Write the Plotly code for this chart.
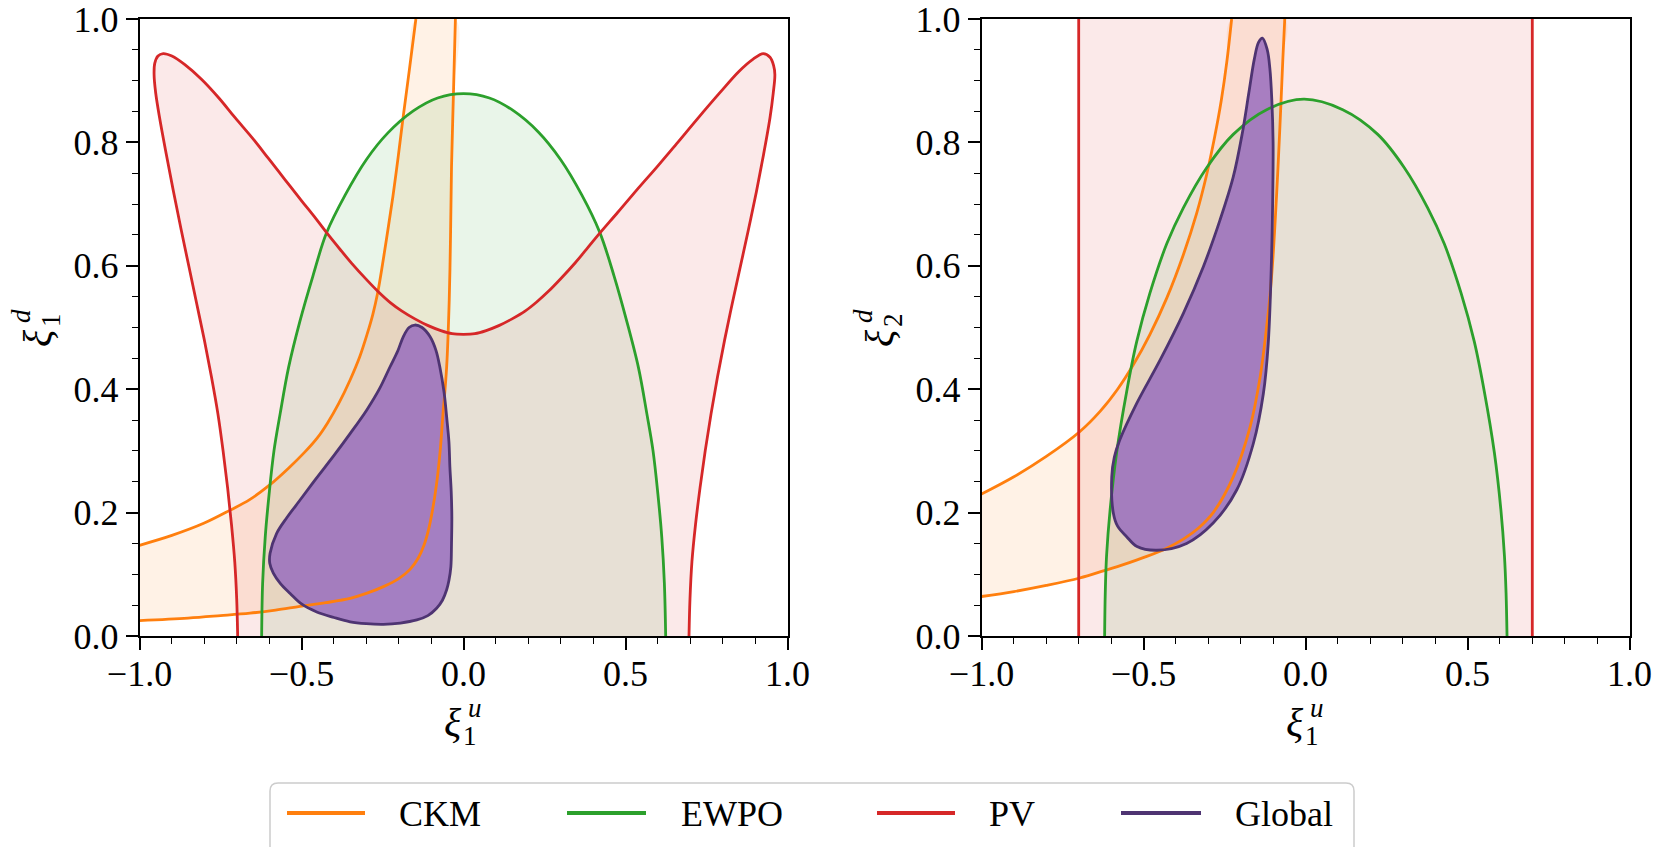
import plotly.graph_objects as go

# ---------------- data ----------------
# Left panel (xi_1^u vs xi_1^d)
CKM_L_UP_X = [-1.00, -0.90, -0.80, -0.72, -0.66, -0.60, -0.54, -0.49, -0.45, -0.42, -0.385, -0.35, -0.32, -0.297, -0.280, -0.265, -0.250, -0.234, -0.218, -0.202, -0.187, -0.167, -0.147]
CKM_L_UP_Y = [0.147, 0.163, 0.183, 0.204, 0.221, 0.244, 0.272, 0.298, 0.322, 0.345, 0.377, 0.415, 0.453, 0.490, 0.521, 0.556, 0.602, 0.656, 0.712, 0.775, 0.838, 0.918, 1.000]
CKM_L_LO_X = [-0.025, -0.031, -0.037, -0.040, -0.044, -0.052, -0.064, -0.072, -0.083, -0.097, -0.108, -0.122, -0.140, -0.165, -0.200, -0.247, -0.300, -0.350, -0.425, -0.505, -0.580, -0.659, -0.750, -0.850, -1.000]
CKM_L_LO_Y = [1.000, 0.880, 0.760, 0.650, 0.545, 0.436, 0.355, 0.300, 0.247, 0.200, 0.172, 0.147, 0.126, 0.108, 0.093, 0.080, 0.069, 0.061, 0.054, 0.048, 0.042, 0.037, 0.033, 0.029, 0.025]

EWPO_L_X = [-0.623, -0.620, -0.612, -0.600, -0.585, -0.566, -0.540, -0.505, -0.465, -0.423, -0.365, -0.300, -0.234, -0.155, -0.080, 0.000, 0.080, 0.155, 0.231, 0.300, 0.365, 0.420, 0.465, 0.504, 0.540, 0.566, 0.585, 0.600, 0.612, 0.620, 0.624]
EWPO_L_Y = [0.000, 0.085, 0.160, 0.230, 0.300, 0.360, 0.435, 0.510, 0.583, 0.653, 0.715, 0.772, 0.815, 0.851, 0.872, 0.879, 0.872, 0.851, 0.817, 0.772, 0.715, 0.655, 0.583, 0.510, 0.435, 0.360, 0.300, 0.230, 0.160, 0.085, 0.000]

PV_L_X = [-0.697, -0.700, -0.706, -0.716, -0.728, -0.742, -0.758, -0.778, -0.800, -0.824, -0.848, -0.872, -0.895, -0.917, -0.938, -0.950, -0.955, -0.953, -0.943, -0.927,
          -0.900, -0.860, -0.808, -0.755, -0.705, -0.650, -0.602, -0.550, -0.499, -0.455, -0.417, -0.380, -0.345, -0.300, -0.263, -0.225, -0.191, -0.150, -0.109, -0.070, -0.035, 0.000,
          0.035, 0.070, 0.109, 0.150, 0.191, 0.225, 0.263, 0.300, 0.345, 0.380, 0.416, 0.475, 0.535, 0.600, 0.658, 0.720, 0.792, 0.850, 0.894, 0.925, 0.946, 0.957,
          0.961, 0.956, 0.946, 0.926, 0.904, 0.880, 0.855, 0.830, 0.806, 0.784, 0.764, 0.746, 0.730, 0.716, 0.705, 0.699, 0.696]
PV_L_Y = [0.000, 0.060, 0.120, 0.180, 0.240, 0.300, 0.360, 0.420, 0.480, 0.540, 0.600, 0.660, 0.720, 0.780, 0.840, 0.880, 0.910, 0.928, 0.940, 0.944,
          0.940, 0.926, 0.902, 0.872, 0.840, 0.806, 0.774, 0.739, 0.705, 0.676, 0.650, 0.626, 0.604, 0.578, 0.558, 0.540, 0.527, 0.514, 0.503, 0.495, 0.490, 0.489,
          0.490, 0.495, 0.503, 0.514, 0.527, 0.541, 0.559, 0.579, 0.605, 0.627, 0.650, 0.686, 0.723, 0.762, 0.798, 0.837, 0.881, 0.915, 0.935, 0.944, 0.938, 0.925,
          0.910, 0.880, 0.840, 0.780, 0.720, 0.660, 0.600, 0.540, 0.480, 0.420, 0.360, 0.300, 0.240, 0.180, 0.120, 0.060, 0.000]

GLOBAL_L_X = [-0.150, -0.128, -0.103, -0.085, -0.073, -0.060, -0.052, -0.045, -0.042, -0.038, -0.036, -0.037, -0.039, -0.045, -0.052, -0.065, -0.083, -0.110, -0.144, -0.195, -0.247, -0.300, -0.350, -0.400, -0.453, -0.500, -0.535, -0.565, -0.587, -0.598, -0.597, -0.577, -0.545, -0.505, -0.455, -0.402, -0.350, -0.299, -0.260, -0.227, -0.203, -0.186, -0.168, -0.150]
GLOBAL_L_Y = [0.504, 0.500, 0.485, 0.463, 0.436, 0.395, 0.355, 0.315, 0.274, 0.235, 0.193, 0.150, 0.112, 0.090, 0.075, 0.058, 0.045, 0.033, 0.026, 0.021, 0.019, 0.020, 0.023, 0.030, 0.039, 0.052, 0.069, 0.085, 0.102, 0.118, 0.134, 0.166, 0.192, 0.220, 0.255, 0.291, 0.328, 0.366, 0.400, 0.436, 0.462, 0.485, 0.500, 0.504]

# Right panel (xi_1^u vs xi_2^d)
CKM_R_UP_X = [-1.000, -0.900, -0.800, -0.697, -0.634, -0.580, -0.531, -0.480, -0.428, -0.377, -0.336, -0.305, -0.280, -0.260, -0.243, -0.228]
CKM_R_UP_Y = [0.230, 0.258, 0.291, 0.331, 0.364, 0.400, 0.440, 0.489, 0.548, 0.618, 0.685, 0.748, 0.810, 0.868, 0.930, 1.000]
CKM_R_LO_X = [-0.064, -0.070, -0.079, -0.089, -0.101, -0.110, -0.120, -0.140, -0.171, -0.223, -0.285, -0.330, -0.377, -0.430, -0.490, -0.560, -0.621, -0.697, -0.800, -0.900, -1.000]
CKM_R_LO_Y = [1.000, 0.934, 0.825, 0.717, 0.609, 0.550, 0.501, 0.420, 0.339, 0.258, 0.200, 0.175, 0.157, 0.142, 0.129, 0.116, 0.106, 0.094, 0.082, 0.072, 0.064]

EWPO_R_X = [-0.620, -0.618, -0.614, -0.603, -0.583, -0.552, -0.521, -0.480, -0.428, -0.377, -0.305, -0.223, -0.120, -0.005, 0.115, 0.223, 0.305, 0.377, 0.428, 0.480, 0.521, 0.552, 0.583, 0.603, 0.614, 0.619, 0.622]
EWPO_R_Y = [0.000, 0.070, 0.130, 0.205, 0.297, 0.396, 0.477, 0.556, 0.636, 0.694, 0.759, 0.813, 0.853, 0.870, 0.853, 0.813, 0.759, 0.694, 0.636, 0.556, 0.477, 0.396, 0.297, 0.205, 0.130, 0.070, 0.000]

PV_R_BOUNDS = [-0.70, 0.70]

GLOBAL_R_X = [-0.133, -0.118, -0.110, -0.104, -0.100, -0.101, -0.105, -0.115, -0.130, -0.161, -0.212, -0.285, -0.367, -0.459, -0.520, -0.552, -0.580, -0.593, -0.598, -0.590, -0.573, -0.521, -0.449, -0.377, -0.315, -0.264, -0.223, -0.195, -0.175, -0.158, -0.145, -0.133]
GLOBAL_R_Y = [0.969, 0.950, 0.920, 0.870, 0.800, 0.717, 0.609, 0.474, 0.393, 0.312, 0.237, 0.183, 0.150, 0.139, 0.145, 0.161, 0.178, 0.199, 0.258, 0.290, 0.318, 0.377, 0.447, 0.523, 0.599, 0.674, 0.744, 0.815, 0.880, 0.935, 0.962, 0.969]

X_TICKS = [-1.0, -0.5, 0.0, 0.5, 1.0]
Y_TICKS = [0.0, 0.2, 0.4, 0.6, 0.8, 1.0]
LEGEND_LABELS = ["CKM", "EWPO", "PV", "Global"]

# ---------------- styling ----------------
ORANGE = "#ff7f0e"
GREEN = "#2ca02c"
RED = "#d62728"
PURPLE_LINE = "#4e3472"
PURPLE_FILL = "rgba(148,103,189,0.80)"
ORANGE_FILL = "rgba(255,127,14,0.10)"
GREEN_FILL = "rgba(44,160,44,0.10)"
RED_FILL = "rgba(214,39,40,0.10)"
FONT = "Liberation Serif"
LW = 2.8
SMOOTH = 1.0

W, H = 1669, 847


def fx(p):
    return p / W


def fy(p):
    return 1 - p / H


fig = go.Figure()


def add_fill(x, y, color, xa, ya, shape="spline"):
    fig.add_trace(go.Scatter(x=x, y=y, mode="lines", fill="toself", fillcolor=color,
                             line=dict(width=0, shape=shape, smoothing=SMOOTH if shape == "spline" else None),
                             hoverinfo="skip", showlegend=False, xaxis=xa, yaxis=ya))


def add_line(x, y, color, xa, ya, shape="spline"):
    fig.add_trace(go.Scatter(x=x, y=y, mode="lines",
                             line=dict(width=LW, color=color, shape=shape,
                                       smoothing=SMOOTH if shape == "spline" else None),
                             hoverinfo="skip", showlegend=False, xaxis=xa, yaxis=ya))


# ---- left panel fills ----
add_fill(CKM_L_UP_X + CKM_L_LO_X, CKM_L_UP_Y + CKM_L_LO_Y, ORANGE_FILL, "x", "y")
add_fill(EWPO_L_X, EWPO_L_Y, GREEN_FILL, "x", "y")
add_fill(PV_L_X, PV_L_Y, RED_FILL, "x", "y")
add_fill(GLOBAL_L_X, GLOBAL_L_Y, PURPLE_FILL, "x", "y")
# ---- right panel fills ----
add_fill(CKM_R_UP_X + CKM_R_LO_X, CKM_R_UP_Y + CKM_R_LO_Y, ORANGE_FILL, "x2", "y2")
add_fill(EWPO_R_X, EWPO_R_Y, GREEN_FILL, "x2", "y2")
add_fill([PV_R_BOUNDS[0], PV_R_BOUNDS[0], PV_R_BOUNDS[1], PV_R_BOUNDS[1]], [0, 1, 1, 0],
         RED_FILL, "x2", "y2", shape="linear")
add_fill(GLOBAL_R_X, GLOBAL_R_Y, PURPLE_FILL, "x2", "y2")

# ---- left panel contour lines ----
add_line(CKM_L_UP_X, CKM_L_UP_Y, ORANGE, "x", "y")
add_line(CKM_L_LO_X, CKM_L_LO_Y, ORANGE, "x", "y")
add_line(EWPO_L_X, EWPO_L_Y, GREEN, "x", "y")
add_line(PV_L_X, PV_L_Y, RED, "x", "y")
add_line(GLOBAL_L_X, GLOBAL_L_Y, PURPLE_LINE, "x", "y")
# ---- right panel contour lines ----
add_line(CKM_R_UP_X, CKM_R_UP_Y, ORANGE, "x2", "y2")
add_line(CKM_R_LO_X, CKM_R_LO_Y, ORANGE, "x2", "y2")
add_line(EWPO_R_X, EWPO_R_Y, GREEN, "x2", "y2")
for b in PV_R_BOUNDS:
    add_line([b, b], [0, 1], RED, "x2", "y2", shape="linear")
add_line(GLOBAL_R_X, GLOBAL_R_Y, PURPLE_LINE, "x2", "y2")


def fmt(v):
    return ("−" if v < 0 else "") + f"{abs(v):.1f}"


tickfont = dict(family=FONT, size=36, color="black")
common_axis = dict(showline=True, mirror=True, linecolor="black", linewidth=1.5,
                   showgrid=False, zeroline=False, ticks="outside", ticklen=12,
                   tickwidth=1.5, tickcolor="black", tickfont=tickfont, automargin=False,
                   ticklabeloverflow="allow")

xdom_l = [fx(139.5), fx(787.5)]
xdom_r = [fx(981.5), fx(1629.5)]
ydom = [fy(636), fy(19)]

xminor = dict(tickmode="array", tickvals=[round(-1 + 0.1 * i, 2) for i in range(21)],
              ticklen=6, tickwidth=1.3, tickcolor="black", ticks="outside", showgrid=False)
yminor = dict(tickmode="array", tickvals=[round(0.05 * i, 2) for i in range(21)],
              ticklen=6, tickwidth=1.3, tickcolor="black", ticks="outside", showgrid=False)

xa = dict(range=[-1, 1], tickmode="array", tickvals=X_TICKS, ticktext=[fmt(v) for v in X_TICKS],
          minor=xminor, ticklabelstandoff=-7, **common_axis)
ya = dict(range=[0, 1], tickmode="array", tickvals=Y_TICKS, ticktext=[fmt(v) for v in Y_TICKS],
          minor=yminor, **common_axis)

fig.update_layout(
    width=W, height=H,
    margin=dict(l=0, r=0, t=0, b=0, autoexpand=False),
    paper_bgcolor="white", plot_bgcolor="white",
    showlegend=False,
    xaxis=dict(domain=xdom_l, anchor="y", **xa),
    yaxis=dict(domain=ydom, anchor="x", **ya),
    xaxis2=dict(domain=xdom_r, anchor="y2", **xa),
    yaxis2=dict(domain=ydom, anchor="x2", **ya),
)

annotations = []


def label(text, x, y, size, angle=0, anchor="center"):
    annotations.append(dict(text=text, x=fx(x), y=fy(y), xref="paper", yref="paper",
                            showarrow=False, xanchor=anchor, yanchor="middle",
                            textangle=angle, font=dict(family=FONT, size=size, color="black")))


# x-axis labels  xi_1^u (stacked sub/superscript)
for off in (0, 842):
    label("<i>ξ</i>", 453 + off, 722, 40)
    label("<i>u</i>", 475 + off, 708, 27)
    label("1", 470 + off, 736, 27)

# y-axis labels xi_1^d and xi_2^d (rotated)
for off, sub in ((0, "1"), (842, "2")):
    label("<i>ξ</i>", 37 + off, 338, 40, angle=-90)
    label(sub, 51 + off, 320, 27, angle=-90)
    label("<i>d</i>", 21 + off, 316, 27, angle=-90)

# legend (manual)
shapes = []
x0, x1, y0, y1, r = 270, 1354, 783, 900, 8
path = (f"M {fx(x0)},{fy(y1)} L {fx(x0)},{fy(y0 + r)} Q {fx(x0)},{fy(y0)} {fx(x0 + r)},{fy(y0)} "
        f"L {fx(x1 - r)},{fy(y0)} Q {fx(x1)},{fy(y0)} {fx(x1)},{fy(y0 + r)} L {fx(x1)},{fy(y1)}")
shapes.append(dict(type="path", path=path, xref="paper", yref="paper",
                   line=dict(color="#cccccc", width=1.5), fillcolor="white", layer="below"))
leg_colors = [ORANGE, GREEN, RED, PURPLE_LINE]
leg_line_x = [(287, 365), (567, 646), (877, 955), (1121, 1201)]
leg_text_x = [397, 679, 987, 1233]
for name, col, (a, b), tx in zip(LEGEND_LABELS, leg_colors, leg_line_x, leg_text_x):
    shapes.append(dict(type="line", xref="paper", yref="paper", x0=fx(a), x1=fx(b),
                       y0=fy(813), y1=fy(813), line=dict(color=col, width=4)))
    label(name, tx, 814, 36, anchor="left")

fig.update_layout(annotations=annotations, shapes=shapes)

fig.write_html("out.html")
